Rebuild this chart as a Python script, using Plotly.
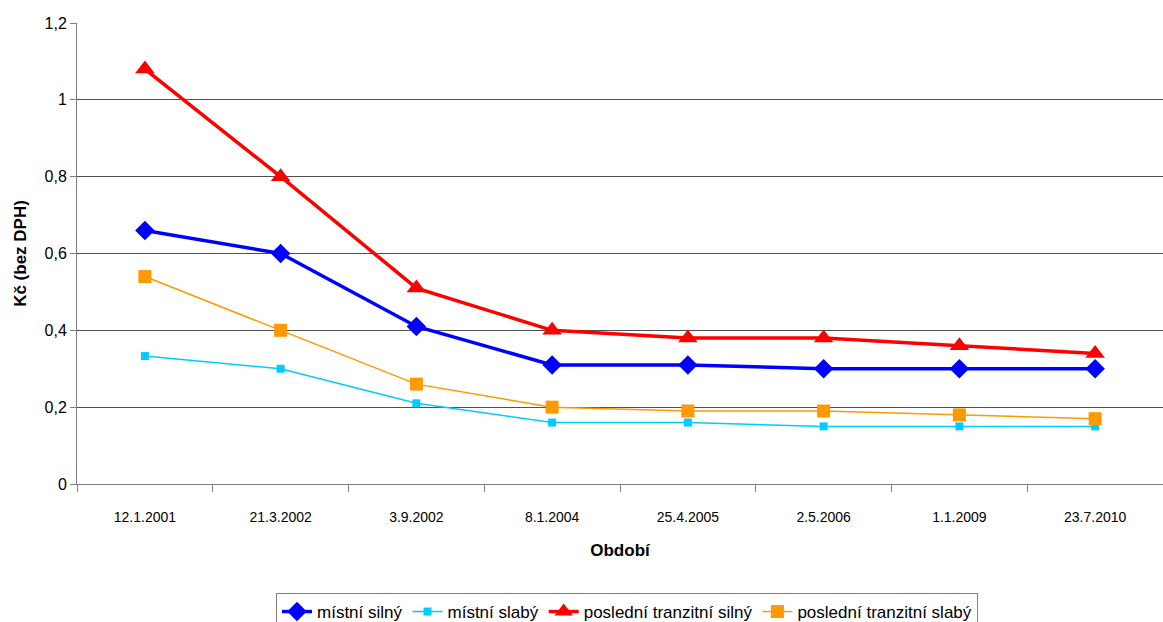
import plotly.graph_objects as go

categories = ["12.1.2001", "21.3.2002", "3.9.2002", "8.1.2004", "25.4.2005", "2.5.2006", "1.1.2009", "23.7.2010"]
mistni_silny = [0.66, 0.60, 0.41, 0.31, 0.31, 0.30, 0.30, 0.30]
mistni_slaby = [0.333, 0.30, 0.21, 0.16, 0.16, 0.15, 0.15, 0.15]
posledni_tranzitni_silny = [1.08, 0.80, 0.51, 0.40, 0.38, 0.38, 0.36, 0.34]
posledni_tranzitni_slaby = [0.54, 0.40, 0.26, 0.20, 0.19, 0.19, 0.18, 0.17]
y_ticks = [0, 0.2, 0.4, 0.6, 0.8, 1.0, 1.2]

FONT = "Liberation Sans, Arial, sans-serif"

fig = go.Figure()
fig.add_trace(go.Scatter(x=categories, y=mistni_silny, name="místní silný", mode="lines+markers",
                         line=dict(color="#0000FF", width=3.5),
                         marker=dict(symbol="diamond", size=15, color="#0000FF")))
fig.add_trace(go.Scatter(x=categories, y=mistni_slaby, name="místní slabý", mode="lines+markers",
                         line=dict(color="#00CCFF", width=1.5),
                         marker=dict(symbol="square", size=8, color="#00CCFF")))
fig.add_trace(go.Scatter(x=categories, y=posledni_tranzitni_silny, name="poslední tranzitní silný", mode="lines+markers",
                         line=dict(color="#FF0000", width=3.5),
                         marker=dict(symbol="triangle-up", size=17, color="#FF0000")))
fig.add_trace(go.Scatter(x=categories, y=posledni_tranzitni_slaby, name="poslední tranzitní slabý", mode="lines+markers",
                         line=dict(color="#FF9900", width=1.5),
                         marker=dict(symbol="square", size=13, color="#FF9900")))

fig.update_layout(
    width=1163, height=622,
    margin=dict(l=77, r=0, t=23, b=138),
    paper_bgcolor="white", plot_bgcolor="white",
    separators=", ",
    font=dict(family=FONT, size=14, color="black"),
    showlegend=True,
    legend=dict(orientation="h", xref="container", yref="container",
                x=627/1163, xanchor="center", y=(622-593)/622, yanchor="top",
                bordercolor="#808080", borderwidth=1,
                font=dict(family=FONT, size=17, color="black"),
                tracegroupgap=0),
)
fig.update_xaxes(
    type="category", range=[-0.5, 7.5], automargin=False,
    showline=True, linecolor="#808080", linewidth=1,
    ticks="outside", tickson="boundaries", ticklen=7, tickcolor="#808080",
    showgrid=False, ticklabelstandoff=20,
    tickfont=dict(family=FONT, size=14),
    title=dict(text="<b>Období</b>", font=dict(family=FONT, size=17), standoff=20),
)
fig.update_yaxes(
    range=[0, 1.2], tickvals=y_ticks, automargin=False,
    showline=True, linecolor="#808080", linewidth=1,
    ticks="outside", ticklen=6, tickcolor="#808080",
    showgrid=True, gridcolor="#505050", gridwidth=1,
    zeroline=True, zerolinecolor="#303030", zerolinewidth=1,
    tickfont=dict(family=FONT, size=16),
    title=dict(text="<b>Kč (bez DPH)</b>", font=dict(family=FONT, size=17), standoff=13),
)

fig.write_html("out.html", config={"displayModeBar": False},
               post_script="document.body.style.margin='0';document.body.style.overflow='hidden';")
